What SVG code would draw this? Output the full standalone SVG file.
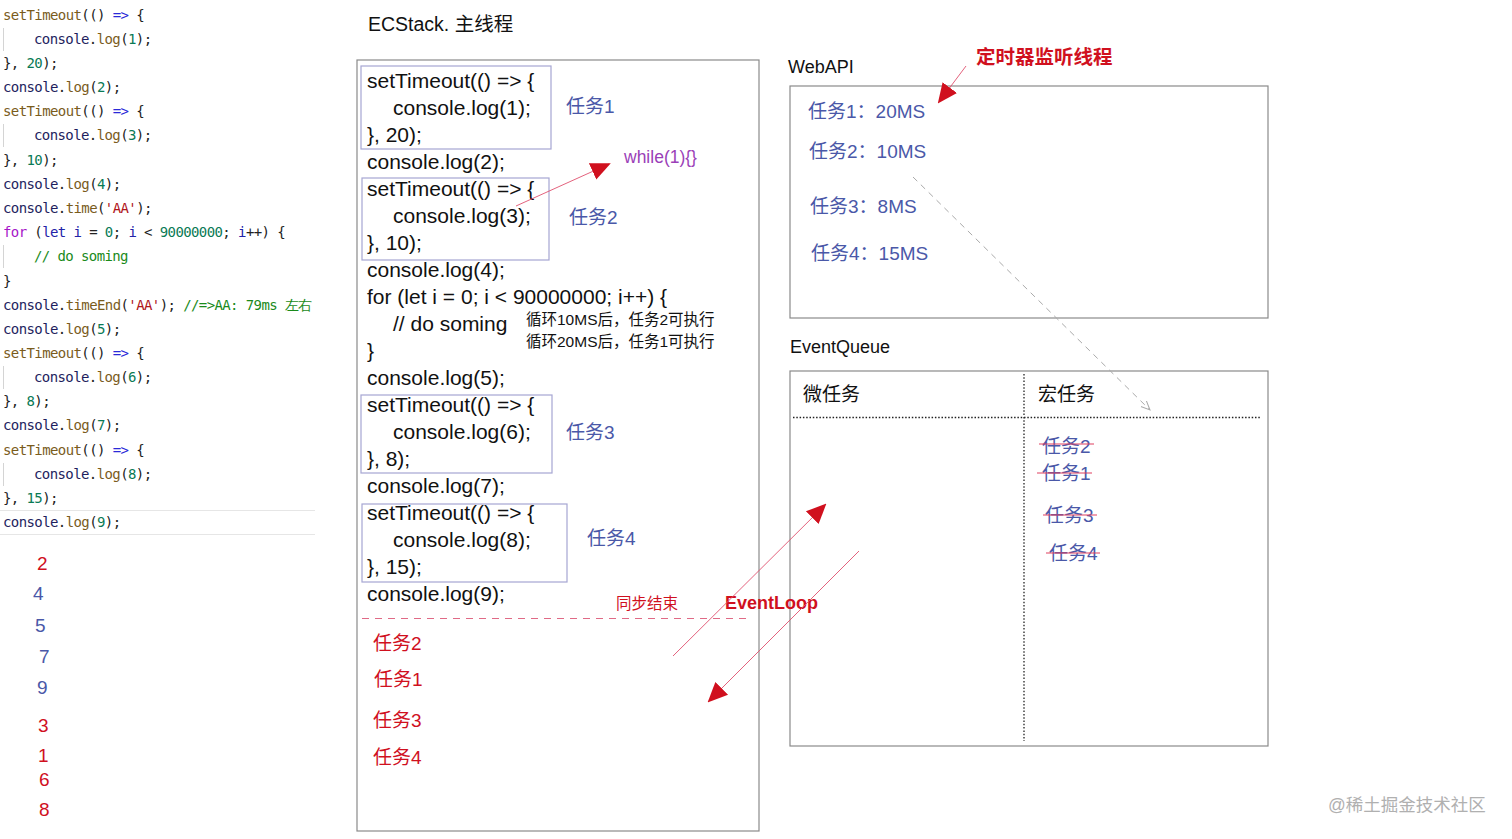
<svg xmlns="http://www.w3.org/2000/svg" width="1512" height="839" viewBox="0 0 1512 839">
<style>
text{font-family:"Liberation Sans","Noto Sans CJK SC",sans-serif;}
.code{font-family:"DejaVu Sans Mono","Liberation Mono",monospace;font-size:14px;letter-spacing:-0.6px;fill:#222;}
.fn{fill:#7a5c1c}.op{fill:#2a2ad8}.obj{fill:#1e1e5e}.num{fill:#0a7a55}.str{fill:#b0151a}.kw{fill:#a616c8}.kw2{fill:#2323a8}.cm{fill:#1a8a1a}
.guide{stroke:#d4d4d4;stroke-width:1}
.out{font-size:19px}
.red{fill:#d0101e}.blue{fill:#4a58a8}
.main{font-size:21px;fill:#111}
.title{font-size:18px;fill:#111}
.box{fill:none;stroke:#8a8a8a;stroke-width:1.2}
.ibox{fill:none;stroke:#a6a6d2;stroke-width:1.2}
.lbl{font-size:19px}
.redline{stroke:#e0506e;stroke-width:0.9;fill:none}
.dot{stroke:#222;stroke-width:1.3;stroke-dasharray:1.5 1.8;fill:none}
.strike{stroke:#e04060;stroke-width:1.2}
</style>
<defs>
<marker id="redhead" viewBox="0 0 10 10" refX="9" refY="5" markerWidth="20" markerHeight="20" markerUnits="userSpaceOnUse" orient="auto">
<path d="M0,0.5 L10,5 L0,9.5 Z" fill="#d0101e"/>
</marker>
<marker id="grayhead" viewBox="0 0 10 10" refX="9" refY="5" markerWidth="10" markerHeight="10" markerUnits="userSpaceOnUse" orient="auto">
<path d="M0,1 L9,5 L0,9" fill="none" stroke="#aaa" stroke-width="1"/>
</marker>
</defs>

<g id="source-code">
<line class="guide" x1="3.5" y1="28" x2="3.5" y2="51"/>
<line class="guide" x1="3.5" y1="124" x2="3.5" y2="147"/>
<line class="guide" x1="3.5" y1="245" x2="3.5" y2="268"/>
<line class="guide" x1="3.5" y1="366" x2="3.5" y2="389"/>
<line class="guide" x1="3.5" y1="463" x2="3.5" y2="486"/>
<line x1="0" y1="510.5" x2="315" y2="510.5" stroke="#e6e6e6"/>
<line x1="0" y1="534.5" x2="315" y2="534.5" stroke="#e6e6e6"/>
<text class="code" x="3" y="20"><tspan class="fn">setTimeout</tspan>(() <tspan class="op">=&gt;</tspan> {</text>
<text class="code" x="34" y="44"><tspan class="obj">console</tspan>.<tspan class="fn">log</tspan>(<tspan class="num">1</tspan>);</text>
<text class="code" x="3" y="68">}, <tspan class="num">20</tspan>);</text>
<text class="code" x="3" y="92"><tspan class="obj">console</tspan>.<tspan class="fn">log</tspan>(<tspan class="num">2</tspan>);</text>
<text class="code" x="3" y="116"><tspan class="fn">setTimeout</tspan>(() <tspan class="op">=&gt;</tspan> {</text>
<text class="code" x="34" y="140"><tspan class="obj">console</tspan>.<tspan class="fn">log</tspan>(<tspan class="num">3</tspan>);</text>
<text class="code" x="3" y="165">}, <tspan class="num">10</tspan>);</text>
<text class="code" x="3" y="189"><tspan class="obj">console</tspan>.<tspan class="fn">log</tspan>(<tspan class="num">4</tspan>);</text>
<text class="code" x="3" y="213"><tspan class="obj">console</tspan>.<tspan class="fn">time</tspan>(<tspan class="str">'AA'</tspan>);</text>
<text class="code" x="3" y="237"><tspan class="kw">for</tspan> (<tspan class="kw2">let</tspan> <tspan class="kw2">i</tspan> = <tspan class="num">0</tspan>; <tspan class="kw2">i</tspan> &lt; <tspan class="num">90000000</tspan>; <tspan class="kw2">i</tspan>++) {</text>
<text class="code cm" x="34" y="261">// do soming</text>
<text class="code" x="3" y="286">}</text>
<text class="code" x="3" y="310"><tspan class="obj">console</tspan>.<tspan class="fn">timeEnd</tspan>(<tspan class="str">'AA'</tspan>); <tspan class="cm">//=&gt;AA: 79ms 左右</tspan></text>
<text class="code" x="3" y="334"><tspan class="obj">console</tspan>.<tspan class="fn">log</tspan>(<tspan class="num">5</tspan>);</text>
<text class="code" x="3" y="358"><tspan class="fn">setTimeout</tspan>(() <tspan class="op">=&gt;</tspan> {</text>
<text class="code" x="34" y="382"><tspan class="obj">console</tspan>.<tspan class="fn">log</tspan>(<tspan class="num">6</tspan>);</text>
<text class="code" x="3" y="406">}, <tspan class="num">8</tspan>);</text>
<text class="code" x="3" y="430"><tspan class="obj">console</tspan>.<tspan class="fn">log</tspan>(<tspan class="num">7</tspan>);</text>
<text class="code" x="3" y="455"><tspan class="fn">setTimeout</tspan>(() <tspan class="op">=&gt;</tspan> {</text>
<text class="code" x="34" y="479"><tspan class="obj">console</tspan>.<tspan class="fn">log</tspan>(<tspan class="num">8</tspan>);</text>
<text class="code" x="3" y="503">}, <tspan class="num">15</tspan>);</text>
<text class="code" x="3" y="527"><tspan class="obj">console</tspan>.<tspan class="fn">log</tspan>(<tspan class="num">9</tspan>);</text>
</g>

<g id="output">
<text class="out red" x="37" y="570">2</text>
<text class="out blue" x="33" y="600">4</text>
<text class="out blue" x="35" y="632">5</text>
<text class="out blue" x="39" y="663">7</text>
<text class="out blue" x="37" y="694">9</text>
<text class="out red" x="38" y="732">3</text>
<text class="out red" x="38" y="762">1</text>
<text class="out red" x="39" y="786">6</text>
<text class="out red" x="39" y="816">8</text>
</g>

<g id="ecstack">
<text class="title" x="368" y="31" style="font-size:19.5px">ECStack. 主线程</text>
<rect class="box" x="357" y="60" width="402" height="771"/>
<rect class="ibox" x="361" y="66" width="190" height="83"/>
<rect class="ibox" x="362" y="178" width="187" height="82"/>
<rect class="ibox" x="361" y="395" width="191" height="78"/>
<rect class="ibox" x="362" y="504" width="205" height="78"/>
<text class="main" x="367" y="88">setTimeout(() =&gt; {</text>
<text class="main" x="393" y="115">console.log(1);</text>
<text class="main" x="367" y="142">}, 20);</text>
<text class="main" x="367" y="169">console.log(2);</text>
<text class="main" x="367" y="196">setTimeout(() =&gt; {</text>
<text class="main" x="393" y="223">console.log(3);</text>
<text class="main" x="367" y="250">}, 10);</text>
<text class="main" x="367" y="277">console.log(4);</text>
<text class="main" x="367" y="304">for (let i = 0; i &lt; 90000000; i++) {</text>
<text class="main" x="393" y="331">// do soming</text>
<text class="main" x="367" y="358">}</text>
<text class="main" x="367" y="385">console.log(5);</text>
<text class="main" x="367" y="412">setTimeout(() =&gt; {</text>
<text class="main" x="393" y="439">console.log(6);</text>
<text class="main" x="367" y="466">}, 8);</text>
<text class="main" x="367" y="493">console.log(7);</text>
<text class="main" x="367" y="520">setTimeout(() =&gt; {</text>
<text class="main" x="393" y="547">console.log(8);</text>
<text class="main" x="367" y="574">}, 15);</text>
<text class="main" x="367" y="601">console.log(9);</text>
<text class="lbl blue" x="566" y="113">任务1</text>
<text class="lbl blue" x="569" y="224">任务2</text>
<text class="lbl blue" x="566" y="439">任务3</text>
<text class="lbl blue" x="587" y="545">任务4</text>
<text x="624" y="163" style="font-size:17.5px;fill:#9b3fb8">while(1){}</text>
<text x="526" y="325" style="font-size:15.5px;fill:#111">循环10MS后，任务2可执行</text>
<text x="526" y="347" style="font-size:15.5px;fill:#111">循环20MS后，任务1可执行</text>
<line x1="362" y1="618.5" x2="752" y2="618.5" stroke="#e06a86" stroke-width="1.1" stroke-dasharray="7 6"/>
<text class="red" x="616" y="609" style="font-size:15.5px">同步结束</text>
<text class="lbl red" x="373" y="650">任务2</text>
<text class="lbl red" x="374" y="686">任务1</text>
<text class="lbl red" x="373" y="727">任务3</text>
<text class="lbl red" x="373" y="764">任务4</text>
</g>

<g id="webapi">
<text class="title" x="788" y="73">WebAPI</text>
<text x="976" y="64" style="font-size:19.5px;fill:#d0101e;font-weight:bold">定时器监听线程</text>
<rect class="box" x="790" y="86" width="478" height="232"/>
<text class="lbl blue" x="808" y="118">任务1：20MS</text>
<text class="lbl blue" x="809" y="158">任务2：10MS</text>
<text class="lbl blue" x="810" y="213">任务3：8MS</text>
<text class="lbl blue" x="811" y="260">任务4：15MS</text>
</g>

<g id="eventqueue">
<text class="title" x="790" y="353">EventQueue</text>
<rect class="box" x="790" y="371" width="478" height="375"/>
<line class="dot" x1="1024" y1="374" x2="1024" y2="741"/>
<line class="dot" x1="793" y1="417.5" x2="1261" y2="417.5"/>
<text class="lbl" x="803" y="401" style="fill:#111">微任务</text>
<text class="lbl" x="1038" y="401" style="fill:#111">宏任务</text>
<text class="lbl blue" x="1042" y="453">任务2</text>
<line class="strike" x1="1039" y1="444" x2="1094" y2="444"/>
<text class="lbl blue" x="1042" y="480">任务1</text>
<line class="strike" x1="1037" y1="473" x2="1092" y2="473"/>
<text class="lbl blue" x="1045" y="522">任务3</text>
<line class="strike" x1="1043" y1="515" x2="1097" y2="515"/>
<text class="lbl blue" x="1049" y="560">任务4</text>
<line class="strike" x1="1046" y1="553" x2="1100" y2="553"/>
</g>

<g id="eventloop-label">
<text x="725" y="609" style="font-size:18px;fill:#d0101e;font-weight:bold">EventLoop</text>
</g>

<g id="connectors">
<line class="redline" x1="516" y1="206" x2="609" y2="164" marker-end="url(#redhead)"/>
<line class="redline" x1="966" y1="66" x2="939" y2="102" marker-end="url(#redhead)"/>
<line class="redline" x1="673" y1="656" x2="825" y2="505" marker-end="url(#redhead)"/>
<line class="redline" x1="859" y1="551" x2="709" y2="701" marker-end="url(#redhead)"/>
<line x1="913" y1="177" x2="1150" y2="410" stroke="#aaa" stroke-width="1" stroke-dasharray="6 5" marker-end="url(#grayhead)"/>
</g>

<g id="watermark">
<text x="1328" y="811" style="font-size:17.5px;fill:#b0b0b0">@稀土掘金技术社区</text>
</g>
</svg>
